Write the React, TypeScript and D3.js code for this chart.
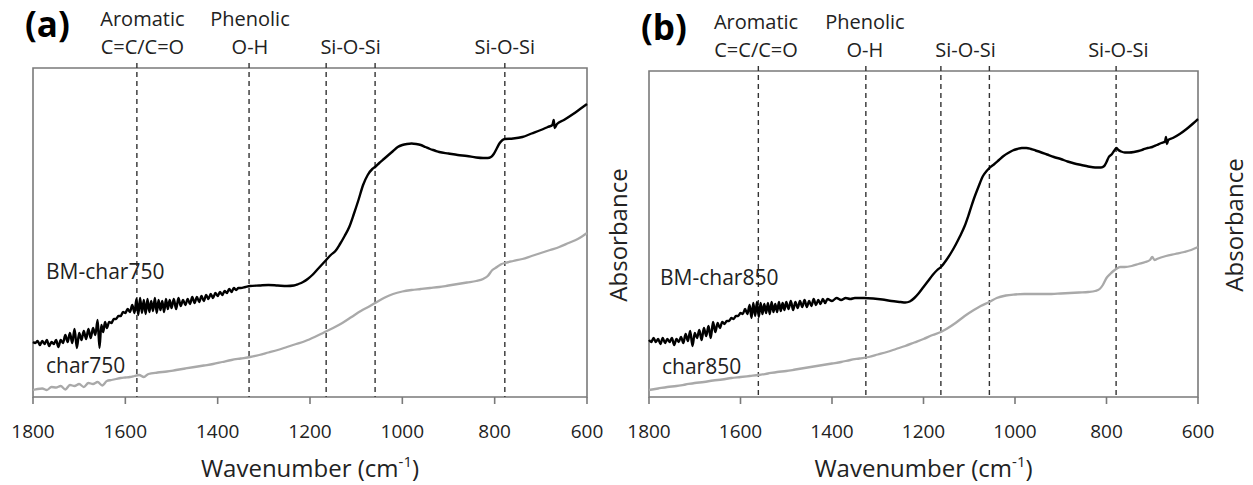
import React from "react";
import * as d3 from "d3";

// ---------- data ----------
const X_TICKS = [1800, 1600, 1400, 1200, 1000, 800, 600];

const BANDS_A = [1575, 1332, 1165, 1059, 778];
const BANDS_B = [1561, 1326, 1162, 1056, 779];

const ANNOT_TEXT = [
  ["Aromatic", "C=C/C=O"],
  ["Phenolic", "O-H"],
  ["", "Si-O-Si"],
  ["", "Si-O-Si"],
];
const ANNOT_WN_A = [1563, 1330, 1112, 778];
const ANNOT_WN_B = [1566, 1328, 1108, 774];

const SERIES_LABELS_A = ["BM-char750", "char750"];
const SERIES_LABELS_B = ["BM-char850", "char850"];

// absorbance (a.u.) vs wavenumber (cm-1)
const BM_CHAR750: [number, number][] = [
  [1800, 0.55], [1795, 0.54], [1790, 0.56], [1785, 0.52], [1780, 0.56], [1775, 0.53],
  [1770, 0.57], [1765, 0.51], [1760, 0.55], [1755, 0.53], [1750, 0.57], [1745, 0.5],
  [1740, 0.57], [1735, 0.54], [1730, 0.62], [1725, 0.55], [1720, 0.64], [1715, 0.54],
  [1710, 0.68], [1705, 0.49], [1700, 0.64], [1695, 0.57], [1690, 0.66], [1685, 0.58],
  [1680, 0.68], [1675, 0.59], [1670, 0.69], [1665, 0.62], [1660, 0.77], [1656, 0.49],
  [1652, 0.72], [1648, 0.65], [1644, 0.75], [1640, 0.69], [1635, 0.75], [1630, 0.74],
  [1625, 0.78], [1620, 0.78], [1615, 0.81], [1610, 0.81], [1605, 0.85], [1600, 0.84],
  [1595, 0.88], [1590, 0.85], [1585, 0.92], [1580, 0.84], [1576, 0.98], [1572, 0.82],
  [1568, 0.99], [1564, 0.84], [1560, 0.97], [1556, 0.83], [1552, 0.98], [1548, 0.85],
  [1544, 0.96], [1540, 0.86], [1536, 0.99], [1532, 0.84], [1528, 0.97], [1524, 0.87],
  [1520, 0.96], [1516, 0.85], [1512, 0.98], [1508, 0.88], [1504, 0.97], [1500, 0.89],
  [1495, 0.98], [1490, 0.88], [1485, 0.99], [1480, 0.91], [1475, 0.97], [1470, 0.92],
  [1465, 0.98], [1460, 0.93], [1455, 1.0], [1450, 0.94], [1445, 1.0], [1440, 0.95],
  [1435, 1.01], [1430, 0.96], [1425, 1.02], [1420, 0.98], [1415, 1.03], [1410, 0.99],
  [1405, 1.04], [1400, 1.01], [1395, 1.05], [1390, 1.02], [1385, 1.06], [1380, 1.04],
  [1375, 1.08], [1370, 1.05], [1365, 1.09], [1360, 1.07], [1355, 1.09], [1350, 1.09],
  [1340, 1.1], [1330, 1.11], [1310, 1.115], [1290, 1.12], [1270, 1.115], [1250, 1.11],
  [1235, 1.115], [1225, 1.13], [1215, 1.15], [1205, 1.18], [1195, 1.22], [1185, 1.27],
  [1175, 1.32], [1165, 1.37], [1155, 1.42], [1145, 1.46], [1135, 1.53], [1125, 1.61],
  [1115, 1.7], [1105, 1.83], [1095, 1.97], [1085, 2.12], [1075, 2.22], [1065, 2.28],
  [1059, 2.3], [1050, 2.34], [1040, 2.38], [1030, 2.42], [1020, 2.46], [1010, 2.5],
  [1000, 2.52], [990, 2.53], [980, 2.535], [970, 2.53], [960, 2.52], [950, 2.5],
  [940, 2.48], [930, 2.465], [920, 2.45], [900, 2.435], [880, 2.42], [860, 2.41],
  [840, 2.395], [825, 2.39], [815, 2.39], [808, 2.4], [802, 2.43], [795, 2.49],
  [789, 2.54], [783, 2.57], [778, 2.58], [760, 2.585], [740, 2.6], [720, 2.635],
  [700, 2.67], [685, 2.7], [675, 2.72], [672, 2.77], [670, 2.69], [665, 2.73],
  [650, 2.77], [630, 2.83], [615, 2.88], [600, 2.93],
];

const CHAR750: [number, number][] = [
  [1800, 0.07], [1790, 0.08], [1780, 0.085], [1770, 0.07], [1760, 0.1], [1750, 0.095],
  [1740, 0.11], [1730, 0.075], [1720, 0.12], [1710, 0.11], [1700, 0.13], [1690, 0.1],
  [1680, 0.14], [1670, 0.13], [1660, 0.15], [1650, 0.115], [1640, 0.16], [1630, 0.17],
  [1620, 0.18], [1610, 0.19], [1600, 0.195], [1590, 0.2], [1580, 0.21], [1570, 0.22],
  [1560, 0.2], [1550, 0.23], [1530, 0.245], [1510, 0.255], [1490, 0.27], [1470, 0.285],
  [1450, 0.3], [1430, 0.315], [1410, 0.33], [1390, 0.35], [1370, 0.37], [1350, 0.385],
  [1330, 0.4], [1310, 0.42], [1290, 0.445], [1270, 0.47], [1250, 0.5], [1230, 0.53],
  [1210, 0.56], [1190, 0.6], [1170, 0.645], [1150, 0.69], [1130, 0.74], [1110, 0.8],
  [1090, 0.86], [1070, 0.91], [1059, 0.94], [1040, 0.99], [1020, 1.03], [1000, 1.055],
  [980, 1.07], [960, 1.08], [940, 1.09], [920, 1.1], [900, 1.115], [880, 1.13],
  [860, 1.145], [840, 1.16], [825, 1.18], [815, 1.21], [805, 1.27], [795, 1.3],
  [785, 1.33], [778, 1.34], [760, 1.36], [740, 1.38], [720, 1.41], [700, 1.44],
  [680, 1.47], [660, 1.5], [640, 1.54], [620, 1.58], [600, 1.64],
];

const BM_CHAR850: [number, number][] = [
  [1800, 0.57], [1795, 0.55], [1790, 0.59], [1785, 0.55], [1780, 0.58], [1775, 0.53],
  [1770, 0.59], [1765, 0.54], [1760, 0.58], [1755, 0.55], [1750, 0.59], [1745, 0.52],
  [1740, 0.58], [1735, 0.55], [1730, 0.6], [1725, 0.54], [1720, 0.63], [1715, 0.56],
  [1710, 0.66], [1705, 0.51], [1700, 0.64], [1695, 0.59], [1690, 0.67], [1685, 0.57],
  [1680, 0.69], [1675, 0.61], [1670, 0.71], [1665, 0.59], [1660, 0.75], [1655, 0.65],
  [1650, 0.74], [1645, 0.69], [1640, 0.75], [1635, 0.73], [1630, 0.76], [1625, 0.76],
  [1620, 0.79], [1615, 0.78], [1610, 0.81], [1605, 0.81], [1600, 0.84], [1595, 0.83],
  [1590, 0.88], [1585, 0.83], [1580, 0.92], [1576, 0.79], [1572, 0.94], [1568, 0.81],
  [1564, 0.95], [1560, 0.8], [1556, 0.94], [1552, 0.83], [1548, 0.93], [1544, 0.84],
  [1540, 0.94], [1536, 0.83], [1532, 0.95], [1528, 0.85], [1524, 0.93], [1520, 0.85],
  [1516, 0.95], [1512, 0.86], [1508, 0.94], [1504, 0.87], [1500, 0.95], [1495, 0.88],
  [1490, 0.96], [1485, 0.87], [1480, 0.95], [1475, 0.89], [1470, 0.96], [1465, 0.9],
  [1460, 0.97], [1455, 0.9], [1450, 0.96], [1445, 0.91], [1440, 0.98], [1435, 0.92],
  [1430, 0.97], [1425, 0.93], [1420, 0.98], [1415, 0.94], [1410, 0.98], [1400, 0.96],
  [1390, 0.99], [1380, 0.97], [1370, 0.99], [1360, 0.98], [1350, 0.99], [1340, 0.99],
  [1330, 0.99], [1310, 0.985], [1290, 0.975], [1270, 0.96], [1250, 0.95], [1240, 0.945],
  [1230, 0.955], [1220, 0.99], [1210, 1.04], [1200, 1.1], [1190, 1.16], [1180, 1.22],
  [1170, 1.27], [1162, 1.3], [1150, 1.37], [1140, 1.44], [1130, 1.52], [1120, 1.61],
  [1110, 1.71], [1100, 1.84], [1090, 1.98], [1080, 2.1], [1070, 2.21], [1062, 2.26],
  [1056, 2.29], [1045, 2.33], [1035, 2.37], [1025, 2.41], [1015, 2.44], [1005, 2.465],
  [995, 2.48], [985, 2.49], [975, 2.49], [965, 2.48], [955, 2.465], [945, 2.45],
  [930, 2.425], [915, 2.4], [900, 2.38], [885, 2.355], [870, 2.335], [855, 2.32],
  [840, 2.305], [825, 2.295], [812, 2.295], [805, 2.31], [800, 2.35], [795, 2.4],
  [788, 2.43], [782, 2.47], [778, 2.49], [774, 2.47], [768, 2.455], [760, 2.445],
  [750, 2.445], [740, 2.45], [730, 2.46], [720, 2.475], [710, 2.49], [700, 2.5],
  [690, 2.52], [680, 2.54], [672, 2.555], [670, 2.6], [668, 2.53], [665, 2.57],
  [655, 2.59], [640, 2.63], [625, 2.68], [612, 2.73], [600, 2.78],
];

const CHAR850: [number, number][] = [
  [1800, 0.07], [1780, 0.085], [1760, 0.1], [1740, 0.11], [1720, 0.125], [1700, 0.14],
  [1680, 0.15], [1660, 0.165], [1640, 0.175], [1620, 0.19], [1600, 0.2], [1580, 0.21],
  [1560, 0.22], [1540, 0.235], [1520, 0.25], [1500, 0.26], [1480, 0.275], [1460, 0.29],
  [1440, 0.305], [1420, 0.32], [1400, 0.335], [1380, 0.35], [1360, 0.37], [1340, 0.385],
  [1320, 0.4], [1300, 0.425], [1280, 0.45], [1260, 0.48], [1240, 0.51], [1220, 0.545],
  [1200, 0.58], [1180, 0.62], [1162, 0.65], [1150, 0.68], [1130, 0.74], [1110, 0.81],
  [1090, 0.87], [1075, 0.91], [1056, 0.95], [1040, 0.99], [1020, 1.015], [1000, 1.025],
  [980, 1.03], [960, 1.03], [940, 1.03], [920, 1.03], [900, 1.035], [880, 1.04],
  [860, 1.045], [840, 1.05], [825, 1.06], [815, 1.08], [808, 1.12], [800, 1.19],
  [792, 1.23], [785, 1.26], [779, 1.28], [770, 1.3], [760, 1.3], [745, 1.31],
  [730, 1.33], [715, 1.35], [705, 1.37], [700, 1.4], [695, 1.37], [690, 1.38],
  [670, 1.41], [650, 1.43], [630, 1.45], [615, 1.47], [600, 1.5],
];

// ---------- drawing ----------
const FONT = "'Open Sans', 'Noto Sans', sans-serif";

type PanelProps = {
  tag: string;
  left: number;
  right: number;
  top: number;
  bottom: number;
  bands: number[];
  annotWn: number[];
  labels: string[];
  black: [number, number][];
  gray: [number, number][];
  labelPos: [number, number][];
};

function Panel(p: PanelProps) {
  const x = d3.scaleLinear().domain([1800, 600]).range([p.left, p.right]);
  const y = d3
    .scaleLinear()
    .domain([0, (p.bottom - p.top) / 100])
    .range([p.bottom, p.top]);
  const line = d3
    .line<[number, number]>()
    .x((d) => x(d[0]))
    .y((d) => y(d[1]))
    .curve(d3.curveMonotoneX);
  const axisColor = "#7a7a7a";
  const annotTop = p.top - 42;
  return (
    <g>
      <text
        x={p.left - 8}
        y={p.top - 31}
        fontFamily={FONT}
        fontWeight={700}
        fontSize={35}
        fill="#000"
      >
        {p.tag}
      </text>
      {p.annotWn.map((wn, i) => (
        <g key={"an" + i}>
          {ANNOT_TEXT[i][0] && (
            <text
              x={x(wn)}
              y={annotTop}
              textAnchor="middle"
              fontFamily={FONT}
              fontSize={20}
              fill="#222"
            >
              {ANNOT_TEXT[i][0]}
            </text>
          )}
          <text
            x={x(wn)}
            y={annotTop + 28}
            textAnchor="middle"
            fontFamily={FONT}
            fontSize={20}
            fill="#222"
          >
            {ANNOT_TEXT[i][1]}
          </text>
        </g>
      ))}
      {/* frame */}
      <path
        d={`M${p.left},${p.bottom}V${p.top}H${p.right}V${p.bottom}Z`}
        fill="none"
        stroke={axisColor}
        strokeWidth={1.6}
      />
      {X_TICKS.map((t) => (
        <g key={"t" + t}>
          <line
            x1={x(t)}
            x2={x(t)}
            y1={p.bottom}
            y2={p.bottom + 7}
            stroke={axisColor}
            strokeWidth={1.6}
          />
          <text
            x={x(t)}
            y={p.bottom + 41}
            textAnchor="middle"
            fontFamily={FONT}
            fontSize={19}
            fill="#222"
          >
            {t}
          </text>
        </g>
      ))}
      <text
        x={(p.left + p.right) / 2}
        y={p.bottom + 80}
        textAnchor="middle"
        fontFamily={FONT}
        fontSize={24}
        fill="#222"
      >
        Wavenumber (cm
        <tspan fontSize={15} dy={-10}>
          -1
        </tspan>
        <tspan dy={10}>)</tspan>
      </text>
      {p.bands.map((b, i) => (
        <line
          key={"b" + i}
          x1={x(b)}
          x2={x(b)}
          y1={p.top - 5}
          y2={p.bottom}
          stroke="#333"
          strokeWidth={1.4}
          strokeDasharray="5,4"
        />
      ))}
      <path d={line(p.gray) || ""} fill="none" stroke="#a9a9a9" strokeWidth={2.3} />
      <path
        d={line(p.black) || ""}
        fill="none"
        stroke="#000"
        strokeWidth={2.4}
        strokeLinejoin="round"
      />
      <text
        x={p.labelPos[0][0]}
        y={p.labelPos[0][1]}
        fontFamily={FONT}
        fontSize={21}
        fill="#222"
      >
        {p.labels[0]}
      </text>
      <text
        x={p.labelPos[1][0]}
        y={p.labelPos[1][1]}
        fontFamily={FONT}
        fontSize={21}
        fill="#222"
      >
        {p.labels[1]}
      </text>
    </g>
  );
}

export default function App() {
  return (
    <svg
      width={1253}
      height={485}
      style={{ position: "absolute", left: 0, top: 0, background: "#fff" }}
    >
      <rect width={1253} height={485} fill="#fff" />
      <Panel
        tag="(a)"
        left={33}
        right={587}
        top={68}
        bottom={397}
        bands={BANDS_A}
        annotWn={ANNOT_WN_A}
        labels={SERIES_LABELS_A}
        black={BM_CHAR750}
        gray={CHAR750}
        labelPos={[
          [46, 279],
          [46, 373],
        ]}
      />
      <Panel
        tag="(b)"
        left={649}
        right={1198}
        top={71}
        bottom={397}
        bands={BANDS_B}
        annotWn={ANNOT_WN_B}
        labels={SERIES_LABELS_B}
        black={BM_CHAR850}
        gray={CHAR850}
        labelPos={[
          [660, 285],
          [662, 374],
        ]}
      />
      <text
        transform="translate(627,235) rotate(-90)"
        textAnchor="middle"
        fontFamily={FONT}
        fontSize={24}
        fill="#222"
      >
        Absorbance
      </text>
      <text
        transform="translate(1243,225) rotate(-90)"
        textAnchor="middle"
        fontFamily={FONT}
        fontSize={24}
        fill="#222"
      >
        Absorbance
      </text>
    </svg>
  );
}
